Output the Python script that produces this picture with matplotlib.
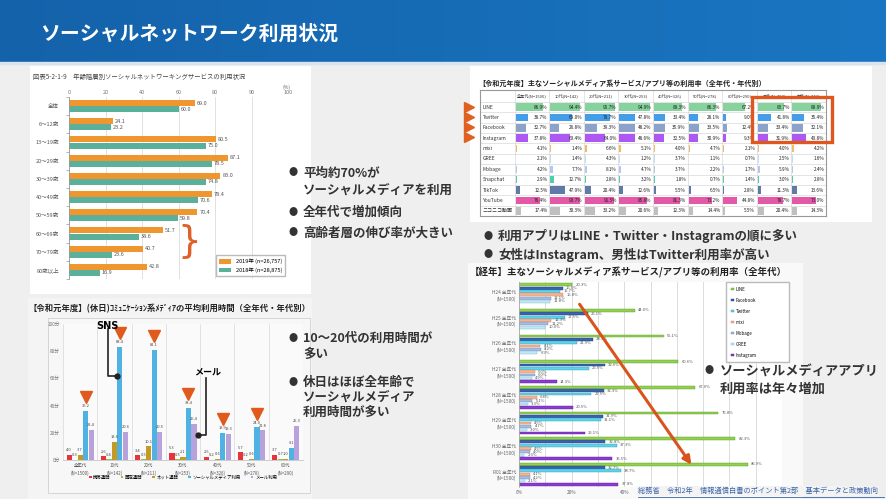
import numpy as np
import matplotlib
matplotlib.use('Agg')
import matplotlib.pyplot as plt
from matplotlib.patches import Rectangle
from matplotlib.colors import LinearSegmentedColormap

plt.rcParams['font.family'] = ['Noto Sans CJK JP', 'DejaVu Sans']

W, H = 886, 499

# ---- 年齢階層別 SNS 利用状況
age_groups = ['全体', '6～12歳', '13～19歳', '20～29歳', '30～39歳', '40～49歳',
              '50～59歳', '60～69歳', '70～79歳', '80歳以上']
sns_2019 = [69.0, 24.1, 80.5, 87.1, 83.0, 78.4, 70.4, 51.7, 40.7, 42.8]
sns_2018 = [60.0, 23.2, 75.0, 78.5, 74.8, 70.6, 59.8, 38.6, 23.6, 16.9]
x1_ticks = [0, 20, 40, 60, 80, 100, 120]
x1_labels = ['0', '20', '40', '60', '80', '90', '100']

# ---- 令和元年度 利用率テーブル
table_cols = ['全年代(N=1500)', '10代(N=142)', '20代(N=211)', '30代(N=253)', '40代(N=326)',
              '50代(N=278)', '60代(N=290)', '男性(N=758)', '女性(N=742)']
apps = ['LINE', 'Twitter', 'Facebook', 'Instagram', 'mixi', 'GREE', 'Mobage',
        'Snapchat', 'TikTok', 'YouTube', 'ニコニコ動画']
line_rates = [86.9, 94.4, 95.7, 94.9, 89.3, 86.3, 67.2, 83.7, 89.9]
twitter_rates = [38.7, 69.0, 79.7, 47.8, 33.4, 28.1, 9.0, 41.8, 35.4]
facebook_rates = [32.7, 26.8, 39.3, 48.2, 35.9, 33.5, 12.4, 33.4, 32.1]
instagram_rates = [37.8, 63.4, 64.0, 48.6, 32.5, 30.9, 9.3, 31.9, 43.8]
mixi_rates = [4.1, 1.4, 6.6, 5.1, 4.0, 4.7, 2.1, 4.0, 4.2]
gree_rates = [2.1, 1.4, 4.3, 1.2, 3.7, 1.1, 0.7, 2.5, 1.6]
mobage_rates = [4.2, 7.7, 8.1, 4.7, 3.7, 2.2, 1.7, 5.9, 2.4]
snapchat_rates = [2.9, 12.7, 2.8, 3.2, 1.8, 0.7, 1.4, 3.0, 2.8]
tiktok_rates = [12.5, 47.9, 20.4, 12.6, 5.5, 6.5, 2.8, 11.3, 13.6]
youtube_rates = [76.4, 93.7, 91.5, 85.8, 81.3, 73.2, 44.8, 78.7, 73.0]
nico_rates = [17.4, 30.3, 33.2, 20.6, 12.3, 14.4, 5.5, 20.4, 14.3]
app_rates = [line_rates, twitter_rates, facebook_rates, instagram_rates, mixi_rates,
             gree_rates, mobage_rates, snapchat_rates, tiktok_rates, youtube_rates, nico_rates]
app_colors = ['#79cf92', '#2f93e6', '#8098c4', '#a446f2', '#f6b44a', '#b4def2',
              '#a8c4f2', '#3ccaa0', '#4d6c9c', '#e0469e', '#b8b8b8']

# ---- 休日 コミュニケーション系メディアの平均利用時間
time_groups = ['全年代\n(N=1500)', '10代\n(N=142)', '20代\n(N=211)', '30代\n(N=253)',
               '40代\n(N=326)', '50代\n(N=278)', '60代\n(N=290)']
media = ['携帯通話', '固定通話', 'ネット通話', 'ソーシャルメディア利用', 'メール利用']
mobile_call = [4.0, 2.6, 3.4, 5.3, 2.5, 5.7, 3.7]
fixed_call = [0.3, 0.4, 0.5, 0.5, 0.2, 0.2, 0.7]
net_call = [3.7, 13.6, 10.1, 2.1, 0.6, 0.6, 1.0]
social_time = [36.2, 83.4, 81.1, 38.4, 19.9, 24.0, 9.1]
mail_time = [22.4, 20.6, 20.5, 26.4, 19.3, 21.8, 25.3]

# ---- 経年 利用率
years = ['H24 全年代\n(N=1500)', 'H25 全年代\n(N=1500)', 'H26 全年代\n(N=1500)',
         'H27 全年代\n(N=1500)', 'H28 全年代\n(N=1500)', 'H29 全年代\n(N=1500)',
         'H30 全年代\n(N=1500)', 'R01 全年代\n(N=1500)']
trend_apps = ['LINE', 'Facebook', 'Twitter', 'mixi', 'Mobage', 'GREE', 'Instagram']
line_trend = [20.3, 44.0, 55.1, 60.6, 67.0, 75.8, 82.3, 86.9]
facebook_trend = [16.6, 26.1, 28.1, 32.6, 32.3, 31.9, 32.8, 32.7]
twitter_trend = [15.7, 17.5, 21.9, 26.5, 27.5, 31.1, 37.3, 38.7]
mixi_trend = [16.8, 12.3, 8.1, 6.0, 6.8, 4.5, 4.5, 4.1]
mobage_trend = [12.1, 11.2, 8.2, 6.0, 5.1, 4.7, 4.0, 4.2]
gree_trend = [11.8, 10.0, 6.9, 4.9, 3.3, 3.0, 2.0, 2.1]
instagram_trend = [None, None, None, 14.3, 20.5, 25.1, 35.5, 37.8]
trend_values = [line_trend, facebook_trend, twitter_trend, mixi_trend, mobage_trend,
                gree_trend, instagram_trend]
trend_colors = ['#92d050', '#3a62b0', '#5fd3ea', '#f8b48e', '#a6bce2', '#bfe9f2', '#8a3bd2']
trend_edges = ['#5c9a28', '#24427c', '#2e9ab0', '#d08060', '#7088b0', '#80b8c8', '#5a1f98']


fig = plt.figure(figsize=(8.86, 4.99), dpi=100)
fig.patch.set_facecolor('#efefef')


def add_ax(x0, y0, x1, y1, **kw):
    return fig.add_axes([x0 / W, 1 - y1 / H, (x1 - x0) / W, (y1 - y0) / H], **kw)


# background layer in pixel coords
bg = add_ax(0, 0, W, H)
bg.set_zorder(0)
grad = np.linspace(0, 1, 256).reshape(1, -1)
bg.imshow(grad, extent=[0, W, 62, 0], cmap=LinearSegmentedColormap.from_list('t', ['#1462aa', '#1a76c2']),
          aspect='auto')
bg.add_patch(Rectangle((0, 62), W, 2, color='#d8e4f0'))
bg.add_patch(Rectangle((30, 66), 281, 228, fc='white', ec='none'))
bg.add_patch(Rectangle((470, 66), 402, 156, fc='white', ec='none'))
bg.add_patch(Rectangle((28, 298), 284, 201, fc='#f4f4f4', ec='none'))
bg.add_patch(Rectangle((48, 318), 262, 175, fc='#f7f7f7', ec='#cfcfcf', lw=0.6))
bg.add_patch(Rectangle((468, 263), 335, 236, fc='#f9f9f9', ec='none'))
bg.set_xlim(0, W)
bg.set_ylim(H, 0)
bg.axis('off')
bg.text(40, 33, 'ソーシャルネットワーク利用状況', color='white', fontsize=14.3,
        fontweight='bold', va='center')

# ---------------- chart 1
bg.text(33, 77, '図表5-2-1-9　年齢階層別ソーシャルネットワーキングサービスの利用状況',
        fontsize=4.6, color='#444', va='center')
bg.text(287, 87, '(%)', fontsize=3.6, color='#666', ha='center', va='center')
ax1 = add_ax(69, 97, 288, 279)
y1 = np.arange(len(age_groups))
ax1.barh(y1 - 0.17, sns_2019, height=0.33, color='#f0962e', label='2019年 (n=26,757)')
ax1.barh(y1 + 0.17, sns_2018, height=0.33, color='#5bb09c', label='2018年 (n=28,875)')
for i, (a, b) in enumerate(zip(sns_2019, sns_2018)):
    ax1.text(a + 1, i - 0.17, f'{a:.1f}', fontsize=4, va='center', color='#555')
    ax1.text(b + 1, i + 0.17, f'{b:.1f}', fontsize=4, va='center', color='#555')
ax1.set_xlim(0, 120)
ax1.set_ylim(9.5, -0.5)
ax1.xaxis.tick_top()
ax1.set_xticks(x1_ticks)
ax1.set_xticklabels(x1_labels, fontsize=4, color='#777')
ax1.tick_params(axis='x', length=0, pad=1.5)
ax1.set_yticks(y1)
ax1.set_yticklabels(age_groups, fontsize=4, color='#555')
ax1.set_yticks(np.arange(-0.5, 10, 1), minor=True)
ax1.tick_params(axis='y', which='major', length=0, pad=7)
ax1.tick_params(axis='y', which='minor', length=2, color='#999', width=0.5)
ax1.grid(axis='x', color='#dcdcdc', lw=0.6)
ax1.set_axisbelow(True)
for s in ['top', 'right', 'bottom']:
    ax1.spines[s].set_visible(False)
ax1.spines['left'].set_color('#999')
ax1.spines['left'].set_linewidth(0.6)
ax1.legend(loc='lower right', fontsize=4, frameon=True, fancybox=False, edgecolor='#aaa',
           handlelength=2.2, handleheight=0.9, borderpad=0.6, labelspacing=0.5)

# ---------------- chart 2 (table)
bg.text(478, 83, '【令和元年度】主なソーシャルメディア系サービス/アプリ等の利用率（全年代・年代別）',
        fontsize=5.1, color='#222', va='center', fontweight='bold')
ax2 = add_ax(480, 90, 826, 216)
hdr = 1.15
ax2.set_xlim(0, 10)
ax2.set_ylim(hdr + len(apps), 0)
for c, name in enumerate(table_cols):
    ax2.text(c + 1.5, hdr / 2, name, fontsize=3, ha='center', va='center', color='#333')
for r, (app, vals, col) in enumerate(zip(apps, app_rates, app_colors)):
    yc = hdr + r + 0.5
    ax2.text(0.08, yc, app, fontsize=3.6, va='center', color='#333')
    ax2.barh([yc] * len(vals), [v / 100 * 0.92 for v in vals], left=np.arange(1, 10) + 0.03,
             height=0.72, color=col, alpha=0.9)
    for c, v in enumerate(vals):
        ax2.text(c + 1.95, yc, f'{v:.1f}%', fontsize=3.4, ha='right', va='center', color='#222')
ax2.hlines(np.arange(len(apps)) + hdr, 0, 10, color='#cfcfcf', lw=0.4)
ax2.vlines(np.arange(1, 10), 0, hdr + len(apps), color='#cfcfcf', lw=0.4)
ax2.set_xticks([])
ax2.set_yticks([])
for s in ax2.spines.values():
    s.set_color('#999')
    s.set_linewidth(0.8)

bg.text(484, 236, '●', fontsize=6.5, color='#333', va='center')
bg.text(498, 236, '利用アプリはLINE・Twitter・Instagramの順に多い', fontsize=9, color='#333',
        va='center', fontweight='bold')
bg.text(484, 255, '●', fontsize=6.5, color='#333', va='center')
bg.text(498, 255, '女性はInstagram、男性はTwitter利用率が高い', fontsize=9, color='#333',
        va='center', fontweight='bold')

# ---------------- chart 3
bg.text(29, 309, '【令和元年度】(休日)ｺﾐｭﾆｹｰｼｮﾝ系ﾒﾃﾞｨｱの平均利用時間（全年代・年代別）',
        fontsize=6, color='#222', va='center', fontweight='bold')
ax3 = add_ax(63, 324, 303, 460)
x3 = np.arange(len(time_groups))
series3 = [mobile_call, fixed_call, net_call, social_time, mail_time]
colors3 = ['#e8323c', '#8cc63e', '#c49a22', '#4fb2e3', '#b7a2dc']
for k, (vals, col, name) in enumerate(zip(series3, colors3, media)):
    xs = x3 + (k - 2) * 0.16
    ax3.bar(xs, vals, width=0.15, color=col, label=name)
    for xv, v in zip(xs, vals):
        ax3.text(xv, v + 2, f'{v:.1f}', fontsize=2.9, ha='center', va='bottom', color='#444')
ax3.set_xlim(-0.5, len(time_groups) - 0.5)
ax3.set_ylim(0, 100)
ax3.set_facecolor('#fafafa')
ax3.set_yticks([0, 20, 40, 60, 80, 100])
ax3.set_yticklabels(['0分', '20分', '40分', '60分', '80分', '100分'], fontsize=3.4, color='#777')
ax3.set_xticks(x3)
ax3.set_xticklabels(time_groups, fontsize=3.2, color='#555', linespacing=1.6)
ax3.tick_params(length=0, pad=2)
ax3.vlines(np.arange(-0.5, 7, 1), 0, 100, color='#dddddd', lw=0.6)
for s in ['top', 'right', 'left']:
    ax3.spines[s].set_visible(False)
ax3.spines['bottom'].set_color('#bbb')
ax3.spines['bottom'].set_linewidth(0.5)
ax3.legend(loc='center', bbox_to_anchor=(0.5, -0.125), ncol=5, fontsize=3.2, frameon=False,
           handlelength=0.6, handleheight=0.6, columnspacing=2.2, handletextpad=0.4)
# 注目マーク
ax3.plot((x3 + 0.16)[:6], [v + 10 for v in social_time[:6]], 'v', color='#e05a1e', ms=8.5,
         clip_on=False)
ax3.plot([0.81, 0.81, 1.07], [96, 62, 62], color='#222', lw=1.2, clip_on=False)
ax3.plot([1.07], [62], 'o', color='#222', ms=3.5, clip_on=False)
ax3.text(0.81, 98.5, 'SNS', fontsize=7, fontweight='bold', ha='center', va='center',
         family=['DejaVu Sans'])
ax3.plot([3.67, 3.67, 3.44], [60, 18.4, 18.4], color='#222', lw=1.2, clip_on=False)
ax3.plot([3.44], [18.4], 'o', color='#222', ms=3.5, clip_on=False)
ax3.text(3.72, 65, 'メール', fontsize=6.5, fontweight='bold', ha='center', va='center')

# chart 1 bullets
for yy in [173, 212, 233]:
    bg.text(289, yy, '●', fontsize=6.5, color='#333', va='center')
for yy, txt in [(173, '平均約70%が'), (190, 'ソーシャルメディアを利用'),
                (212, '全年代で増加傾向'), (233, '高齢者層の伸び率が大きい')]:
    bg.text(303, yy, txt, fontsize=9, color='#333', va='center', fontweight='bold')

# ---------------- chart 4
bg.text(470, 272, '【経年】主なソーシャルメディア系サービス/アプリ等の利用率（全年代）',
        fontsize=6.8, color='#222', va='center', fontweight='bold')
ax4 = add_ax(519, 282, 782, 487)
y4 = np.arange(len(years))
for k, (name, vals, col, ec) in enumerate(zip(trend_apps, trend_values, trend_colors, trend_edges)):
    pos = [y + (k - 3) * 0.13 for y, v in zip(y4, vals) if v is not None]
    vv = [v for v in vals if v is not None]
    ax4.barh(pos, vv, height=0.11, color=col, edgecolor=ec, lw=0.3, label=name)
    for p, v in zip(pos, vv):
        ax4.text(v + 1.2, p, f'{v:.1f}%', fontsize=3, va='center', color='#555')
ax4.set_xlim(0, 100)
ax4.set_ylim(len(years) - 0.5, -0.5)
ax4.set_facecolor('white')
ax4.set_xticks(np.arange(0, 101, 10), minor=True)
ax4.set_xticks([0, 20, 40, 60, 80, 100])
ax4.set_xticklabels(['0%', '20%', '40%', '', '', ''], fontsize=3.4, color='#666')
ax4.set_yticks(y4)
ax4.set_yticklabels(years, fontsize=3.4, color='#666', linespacing=1.3)
ax4.tick_params(length=0, pad=2)
ax4.tick_params(which='minor', length=0)
ax4.grid(axis='x', which='both', color='#d6d6d6', lw=0.6)
ax4.set_axisbelow(True)
for s in ['top', 'right', 'bottom']:
    ax4.spines[s].set_visible(False)
ax4.spines['left'].set_color('#aaa')
ax4.spines['left'].set_linewidth(0.6)
ax4.legend(loc='upper left', bbox_to_anchor=(0.78, 1.01, 0.255, 0), mode='expand',
           fontsize=3.2, frameon=True, fancybox=False, edgecolor='#bbb', labelspacing=1.35,
           borderpad=1.0, handlelength=0.8, handleheight=0.6, handletextpad=0.3, framealpha=1)

# ---------------- overlay layer
ov = add_ax(0, 0, W, H)
ov.set_zorder(5)
ov.patch.set_visible(False)
ov.set_xlim(0, W)
ov.set_ylim(H, 0)
ov.axis('off')
ov.plot([469] * 4, [107, 117, 127, 137], '>', color='#e06020', ms=6.5)
ov.add_patch(Rectangle((752, 97), 80, 45, fill=False, ec='#e0561f', lw=2.4))
ov.text(189, 242, '}', fontsize=27, color='#e0602a', ha='center', va='center',
        family=['DejaVu Sans'])

# chart 3 bullets (over the chart image)
for yy in [338, 382]:
    ov.text(289, yy, '●', fontsize=6.5, color='#333', va='center')
for yy, txt in [(338, '10～20代の利用時間が'), (355, '多い'), (382, '休日はほぼ全年齢で'),
                (397, 'ソーシャルメディア'), (412, '利用時間が多い')]:
    ov.text(303, yy, txt, fontsize=9, color='#333', va='center', fontweight='bold')

ov.annotate('', xy=(693, 467), xytext=(578, 302),
            arrowprops=dict(arrowstyle='-|>', color='#d9531e', lw=2.2, mutation_scale=12))
ov.text(705, 371, '●', fontsize=6.5, color='#333', va='center')
ov.text(720, 371, 'ソーシャルメディアアプリ', fontsize=9.5, color='#333', va='center',
        fontweight='bold')
ov.text(720, 389, '利用率は年々増加', fontsize=9.5, color='#333', va='center', fontweight='bold')
ov.text(638, 491, '総務省　令和2年　情報通信白書のポイント第2部　基本データと政策動向',
        fontsize=5.2, color='#3a62a8', va='center',
        bbox=dict(fc='#f3f3f3', ec='none', pad=0.6))
ov.plot([638, 884], [497, 497], color='#3a62a8', lw=0.6)

fig.savefig('out.png', dpi=100, facecolor=fig.get_facecolor())
